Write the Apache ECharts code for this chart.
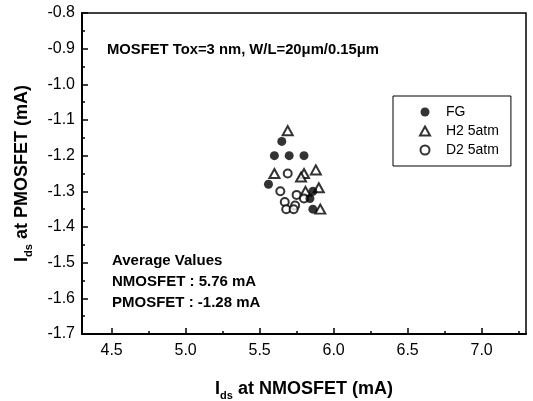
<!DOCTYPE html>
<html>
<head>
<meta charset="utf-8">
<script src="https://cdn.jsdelivr.net/npm/echarts@6/dist/echarts.min.js"></script>
<style>
  html, body { margin: 0; padding: 0; background: #fff; }
  #chart { width: 533px; height: 401px; }
</style>
</head>
<body>
<div id="chart"></div>
<script>
// values
const xMajor = [4.5, 5.0, 5.5, 6.0, 6.5, 7.0];
const xMinor = [4.75, 5.25, 5.75, 6.25, 6.75, 7.25];

const fgX = [5.65, 5.60, 5.70, 5.80, 5.56, 5.84, 5.86, 5.86];
const fgY = [-1.16, -1.20, -1.20, -1.20, -1.28, -1.32, -1.30, -1.35];

const h2X = [5.69, 5.60, 5.80, 5.78, 5.88, 5.81, 5.90, 5.91];
const h2Y = [-1.13, -1.25, -1.25, -1.26, -1.24, -1.30, -1.29, -1.35];

const d2X = [5.69, 5.64, 5.75, 5.80, 5.67, 5.74, 5.68, 5.73];
const d2Y = [-1.25, -1.30, -1.31, -1.32, -1.33, -1.34, -1.35, -1.35];

const seriesNames = ['FG', 'H2 5atm', 'D2 5atm'];
const noteTitle = 'MOSFET Tox=3 nm, W/L=20\u03bcm/0.15\u03bcm';
const noteLines = ['Average Values', 'NMOSFET : 5.76 mA', 'PMOSFET : -1.28 mA'];

const FONT = '"Liberation Sans", Arial, Helvetica, sans-serif';

function pairs(xs, ys) {
  return xs.map((x, i) => [x, ys[i]]);
}

const chart = echarts.init(document.getElementById('chart'));

const nameRich = {
  a: { fontSize: 18, fontWeight: 'bold', fontFamily: FONT, color: '#000' },
  b: { fontSize: 11, fontWeight: 'bold', fontFamily: FONT, color: '#000', padding: [13, 0, 0, 0] }
};

const option = {
  backgroundColor: '#fff',
  animation: false,
  grid: {
    left: 82, right: 7, top: 13, bottom: 67,
    outerBoundsMode: 'none',
    show: true, borderColor: '#000', borderWidth: 1.5, backgroundColor: 'transparent'
  },
  legend: {
    data: seriesNames,
    orient: 'vertical',
    left: 393, top: 96,
    padding: [9, 12, 9, 26],
    itemWidth: 10, itemHeight: 9, itemGap: 5,
    borderColor: '#000', borderWidth: 1,
    selectedMode: false,
    textStyle: { fontFamily: FONT, fontSize: 14, color: '#000', lineHeight: 14, padding: [0, 0, 0, 11] }
  },
  xAxis: [{
    type: 'value', min: 4.3, max: 7.3, position: 'bottom',
    axisLine: { onZero: false, lineStyle: { color: '#000', width: 2 } },
    axisTick: { inside: true, length: 6, customValues: xMajor, lineStyle: { color: '#000', width: 1.5 } },
    axisLabel: {
      customValues: xMajor, margin: 9, fontSize: 16, fontFamily: FONT, color: '#000',
      formatter: v => v.toFixed(1)
    },
    splitLine: { show: false },
    name: '{a|I}{b|ds}{a| at NMOSFET (mA)}',
    nameLocation: 'middle', nameGap: 43,
    nameTextStyle: { rich: nameRich }
  }, {
    type: 'value', min: 4.3, max: 7.3, position: 'bottom',
    axisLine: { show: false },
    axisTick: { inside: true, length: 3, customValues: xMinor, lineStyle: { color: '#000', width: 1.5 } },
    axisLabel: { show: false },
    splitLine: { show: false }
  }],
  yAxis: {
    type: 'value', min: -1.7, max: -0.8, interval: 0.1,
    axisLine: { show: true, onZero: false, lineStyle: { color: '#000', width: 2 } },
    axisTick: { show: true, inside: true, length: 6, lineStyle: { color: '#000', width: 1.5 } },
    minorTick: { show: true, splitNumber: 2, length: 3, lineStyle: { color: '#000', width: 1.5 } },
    axisLabel: {
      margin: 7, fontSize: 16, fontFamily: FONT, color: '#000',
      formatter: v => v.toFixed(1)
    },
    splitLine: { show: false },
    name: '{a|I}{b|ds}{a| at PMOSFET (mA)}',
    nameLocation: 'middle', nameGap: 48, nameRotate: 90,
    nameTextStyle: { rich: nameRich }
  },
  graphic: [
    {
      type: 'text', left: 107, top: 42,
      style: { text: noteTitle, font: 'bold 14.8px ' + FONT, fill: '#000' }
    }
  ].concat(noteLines.map((t, i) => ({
    type: 'text', left: 112, top: 253 + i * 21,
    style: { text: t, font: 'bold 15px ' + FONT, fill: '#000' }
  }))),
  series: [
    {
      name: 'H2 5atm', type: 'scatter', data: pairs(h2X, h2Y),
      symbol: 'emptyTriangle', symbolSize: [10, 9],
      itemStyle: { color: '#000', borderColor: '#000', borderWidth: 1.2 }
    },
    {
      name: 'D2 5atm', type: 'scatter', data: pairs(d2X, d2Y),
      symbol: 'emptyCircle', symbolSize: 8,
      itemStyle: { color: '#000', borderColor: '#000', borderWidth: 1.2 }
    },
    {
      name: 'FG', type: 'scatter', data: pairs(fgX, fgY), z: 3,
      symbol: 'circle', symbolSize: 9,
      itemStyle: { color: '#000' }
    }
  ]
};

chart.setOption(option);
</script>
</body>
</html>
